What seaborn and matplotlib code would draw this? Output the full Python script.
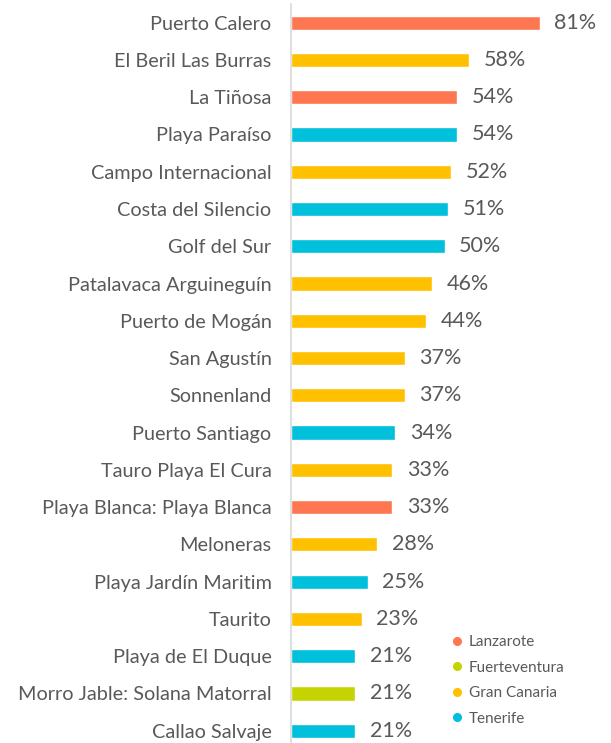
import pandas as pd
import matplotlib.pyplot as plt
import seaborn as sns
from matplotlib.lines import Line2D

places = ['Puerto Calero', 'El Beril Las Burras', 'La Tiñosa', 'Playa Paraíso',
          'Campo Internacional', 'Costa del Silencio', 'Golf del Sur',
          'Patalavaca Arguineguín', 'Puerto de Mogán', 'San Agustín', 'Sonnenland',
          'Puerto Santiago', 'Tauro Playa El Cura', 'Playa Blanca: Playa Blanca',
          'Meloneras', 'Playa Jardín Maritim', 'Taurito', 'Playa de El Duque',
          'Morro Jable: Solana Matorral', 'Callao Salvaje']
share = [81, 58, 54, 54, 52, 51, 50, 46, 44, 37, 37, 34, 33, 33, 28, 25, 23, 21, 21, 21]
island = ['Lanzarote', 'Gran Canaria', 'Lanzarote', 'Tenerife', 'Gran Canaria',
          'Tenerife', 'Tenerife', 'Gran Canaria', 'Gran Canaria', 'Gran Canaria',
          'Gran Canaria', 'Tenerife', 'Gran Canaria', 'Lanzarote', 'Gran Canaria',
          'Tenerife', 'Gran Canaria', 'Tenerife', 'Fuerteventura', 'Tenerife']

islands = ['Lanzarote', 'Fuerteventura', 'Gran Canaria', 'Tenerife']
island_colors = ['#FF7751', '#C5D400', '#FFC000', '#00C0DC']
pal = dict(zip(islands, island_colors))

df = pd.DataFrame({'place': places, 'share': share, 'island': island})

sns.set_style('white')
plt.rcParams['font.family'] = ['Lato', 'DejaVu Sans']
grey = '#595959'

fig = plt.figure(figsize=(6.11, 7.43), dpi=100)
ax = fig.add_axes([291 / 611, 0.0, 307 / 611, 739 / 743])

sns.barplot(data=df, y='place', x='share', hue='island', palette=pal,
            dodge=False, width=0.38, saturation=1, legend=False, ax=ax,
            order=places)

for i, v in enumerate(share):
    ax.text(v + 4.8, i, f'{v}%', va='center', ha='left', fontsize=15.5, color=grey)

ax.set_xlim(0, 100)
ax.set_ylim(19.33, -0.5)
ax.set_xlabel('')
ax.set_ylabel('')
ax.set_xticks([])
ax.tick_params(axis='y', length=0, pad=14, labelsize=14.3, labelcolor=grey)
for s in ['top', 'right', 'bottom']:
    ax.spines[s].set_visible(False)
ax.spines['left'].set_color('#D9D9D9')
ax.spines['left'].set_linewidth(1.2)

handles = [Line2D([], [], marker='o', linestyle='', markersize=5.5,
                  markerfacecolor=c, markeredgecolor=c, label=l)
           for l, c in zip(islands, island_colors)]
ax.legend(handles=handles, loc='lower left', bbox_to_anchor=(0.47, 0.005),
          frameon=False, fontsize=11, labelcolor=grey, handletextpad=0.3,
          labelspacing=0.75, handlelength=1.0)

plt.savefig('out.png', dpi=100)
plt.close()
